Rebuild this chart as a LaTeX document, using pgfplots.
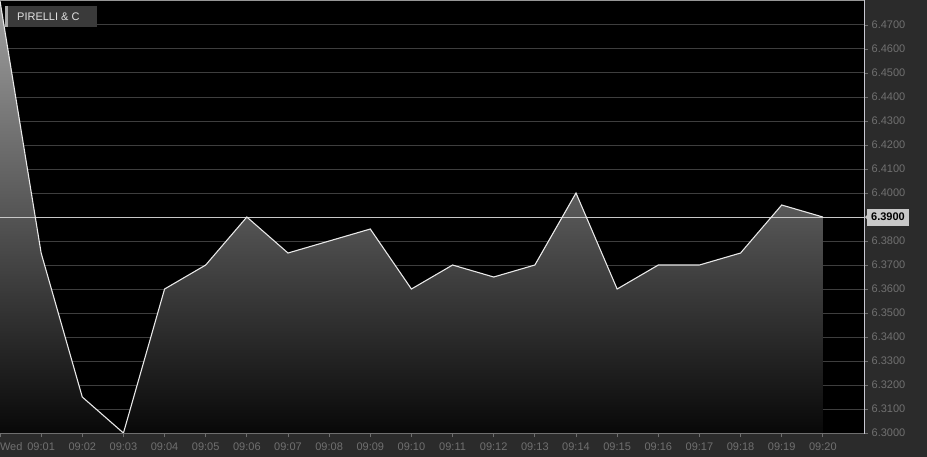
\documentclass[border=0pt]{standalone}
\usepackage{pgfplots}
\pgfplotsset{compat=1.18}
\usepackage{fontspec}
\setmainfont{Liberation Sans}
\definecolor{bg}{RGB}{43,43,43}
\definecolor{gridc}{RGB}{62,62,62}
\definecolor{tickc}{RGB}{110,110,110}
\definecolor{lab}{RGB}{112,112,112}
\definecolor{linec}{RGB}{232,232,232}
\definecolor{refc}{RGB}{200,200,200}
\definecolor{legbg}{RGB}{58,58,58}
\definecolor{legstripe}{RGB}{170,170,170}
\definecolor{legtext}{RGB}{225,225,225}
\definecolor{topborder}{RGB}{150,150,150}
\definecolor{rightborder}{RGB}{200,200,210}
\definecolor{shtop}{RGB}{160,160,160}
\definecolor{shmid}{RGB}{76,76,76}
\definecolor{shbot}{RGB}{8,8,8}
\begin{document}
\begin{tikzpicture}[x=1pt,y=1pt]
\path[use as bounding box] (0,-23) rectangle (927,434);
\fill[bg] (0,-23) rectangle (927,434);
\begin{axis}[
  at={(0,0)}, anchor=south west,
  scale only axis, width=864pt, height=433pt,
  xmin=0, xmax=21, ymin=6.2996, ymax=6.48,
  axis background/.style={fill=black},
  axis line style={draw=none},
  ymajorgrids, grid style={gridc, line width=1pt},
  ytick={6.30,6.31,6.32,6.33,6.34,6.35,6.36,6.37,6.38,6.39,6.40,6.41,6.42,6.43,6.44,6.45,6.46,6.47},
  ytick pos=right, xtick pos=bottom,
  tick align=outside, major tick length=3.5pt,
  tick style={tickc, line width=0.8pt},
  xtick={0,1,...,20},
  xticklabels={{\rlap{Wed}},09:01,09:02,09:03,09:04,09:05,09:06,09:07,09:08,09:09,09:10,09:11,09:12,09:13,09:14,09:15,09:16,09:17,09:18,09:19,09:20},
  /pgf/number format/assume math mode=true,
  /pgf/number format/fixed,
  /pgf/number format/fixed zerofill,
  /pgf/number format/precision=4,
  ticklabel style={font=\fontsize{11}{13}\selectfont, text=lab},
  yticklabel style={anchor=west, inner sep=0pt, xshift=4pt},
  xticklabel style={anchor=north, inner sep=0pt, yshift=-5pt},
]
\addplot[draw=none, top color=shtop, middle color=shmid, bottom color=shbot] coordinates {
(0,6.480) (1,6.375) (2,6.315) (3,6.300) (4,6.360) (5,6.370) (6,6.390) (7,6.375) (8,6.380) (9,6.385) (10,6.360) (11,6.370) (12,6.365) (13,6.370) (14,6.400) (15,6.360) (16,6.370) (17,6.370) (18,6.375) (19,6.395) (20,6.390) (20,6.2996) (0,6.2996)
};
\addplot[refc, line width=1pt] coordinates {(0,6.39) (21,6.39)};
\addplot[linec, line width=1.1pt] coordinates {
(0,6.480) (1,6.375) (2,6.315) (3,6.300) (4,6.360) (5,6.370) (6,6.390) (7,6.375) (8,6.380) (9,6.385) (10,6.360) (11,6.370) (12,6.365) (13,6.370) (14,6.400) (15,6.360) (16,6.370) (17,6.370) (18,6.375) (19,6.395) (20,6.390)
};
\coordinate (refpt) at (axis cs:21,6.39);
\end{axis}
% borders
\draw[tickc, line width=1pt] (0,0) -- (864,0);
\draw[topborder, line width=1pt] (0,433.5) -- (864,433.5);
\draw[rightborder, line width=1pt] (864,0) -- (864,433.5);
% current value label
\fill[refc] ([xshift=1pt]refpt) -- ++(3,3) -- ++(0,-6) -- cycle;
\node[fill=refc, anchor=west, inner xsep=4pt, minimum height=17pt, inner ysep=0pt, font=\fontsize{11}{13}\selectfont\bfseries, text=black] at ([xshift=3pt]refpt) {6.3900};
% legend
\fill[legbg] (5,407) rectangle (97,428);
\fill[legstripe] (5,407) rectangle (8,428);
\node[anchor=west, inner sep=0pt, font=\fontsize{11}{13}\selectfont, text=legtext] at (17,417.5) {PIRELLI \& C};
\end{tikzpicture}
\end{document}
